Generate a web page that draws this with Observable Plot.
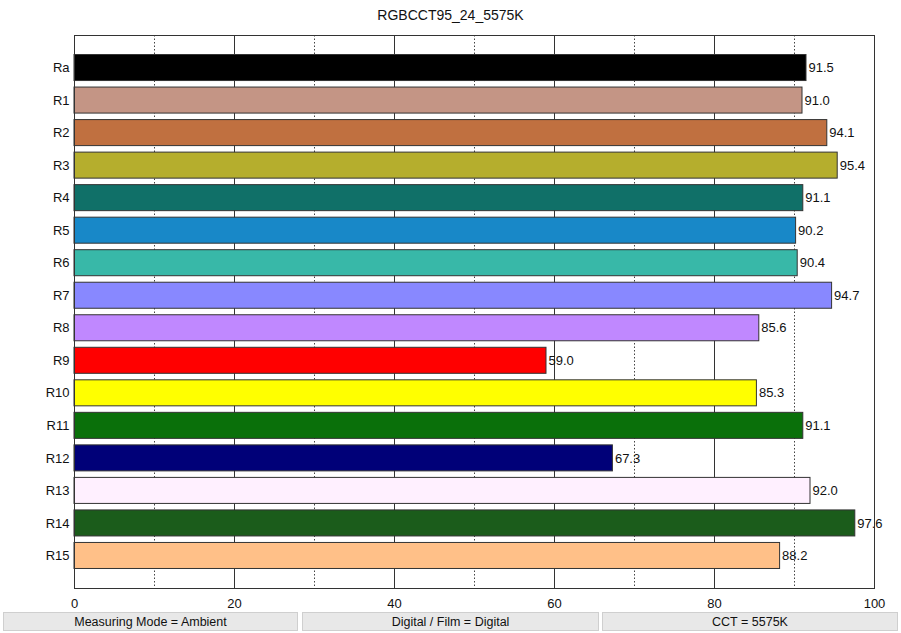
<!DOCTYPE html>
<html>
<head>
<meta charset="utf-8">
<script src="https://cdn.jsdelivr.net/npm/d3@7"></script>
<script src="https://cdn.jsdelivr.net/npm/@observablehq/plot@0.6"></script>
<style>
  body { margin: 0; background: #fff; font-family: "Liberation Sans", Arial, sans-serif; }
  #title { height: 30px; line-height: 30px; text-align: center; font-size: 14px; color: #111; }
  #chart svg { overflow: visible; display: block; }
  #footer { position: absolute; top: 612px; left: 0; width: 901px; height: 20px; }
  .box { position: absolute; top: 0; height: 19px; line-height: 19px; background: #e8e8e8; border: 1px solid #cfcfcf; box-sizing: border-box; text-align: center; font-size: 12.5px; color: #111; }
</style>
</head>
<body>
<div id="title">RGBCCT95_24_5575K</div>
<div id="chart"></div>
<div id="footer">
  <div class="box" style="left:3px;width:295px;">Measuring Mode = Ambient</div>
  <div class="box" style="left:302px;width:297px;">Digital / Film = Digital</div>
  <div class="box" style="left:602px;width:296px;">CCT = 5575K</div>
</div>
<script>
const categories = ["Ra","R1","R2","R3","R4","R5","R6","R7","R8","R9","R10","R11","R12","R13","R14","R15"];
const values = [91.5, 91.0, 94.1, 95.4, 91.1, 90.2, 90.4, 94.7, 85.6, 59.0, 85.3, 91.1, 67.3, 92.0, 97.6, 88.2];
const colors = ["#000000","#c49585","#c07040","#b5ae2d","#107068","#1888c8","#38b8a8","#8888ff","#c088ff","#ff0000","#ffff00","#0a700a","#000078","#fff0ff","#1b5c1b","#ffc088"];
const xTicks = [0, 20, 40, 60, 80, 100];
const majorGrid = [20, 40, 60, 80];
const minorGrid = [10, 30, 50, 70, 90];

const data = categories.map((c, i) => ({ name: c, value: values[i], color: colors[i] }));

const chart = Plot.plot({
  width: 901,
  height: 582,
  marginTop: 5,
  marginBottom: 24,
  marginLeft: 74,
  marginRight: 27,
  style: { fontFamily: "Liberation Sans, Arial, sans-serif", fontSize: "13px", color: "#111", overflow: "visible" },
  x: { domain: [0, 100], ticks: xTicks, tickSize: 0, tickPadding: 10, label: null, tickFormat: d => d },
  y: { domain: categories, paddingInner: 0.2, paddingOuter: 0.6, round: false, tickSize: 0, tickPadding: 5, label: null },
  marks: [
    Plot.ruleX(minorGrid, { stroke: "#444", strokeDasharray: "1.5,2", strokeWidth: 1 }),
    Plot.ruleX(majorGrid, { stroke: "#333", strokeWidth: 1 }),
    Plot.barX(data, { y: "name", x: "value", fill: "color", stroke: "#333", strokeWidth: 1 }),
    Plot.text(data, { y: "name", x: "value", text: d => d.value.toFixed(1), textAnchor: "start", dx: 2, fontSize: 13, fill: "#111" }),
    Plot.frame({ stroke: "#333" })
  ]
});
document.getElementById("chart").appendChild(chart);
</script>
</body>
</html>
